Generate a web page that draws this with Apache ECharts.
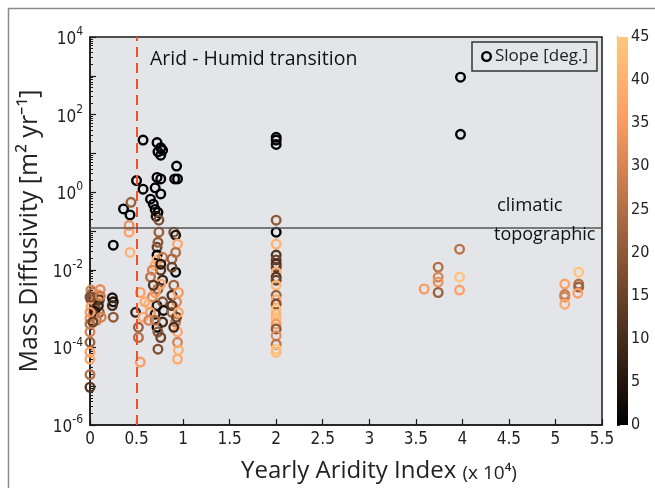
<!DOCTYPE html>
<html>
<head>
<meta charset="utf-8">
<script src="https://cdn.jsdelivr.net/npm/echarts@6/dist/echarts.min.js"></script>
<style>html,body{margin:0;padding:0;background:#fff}#c{width:655px;height:488px}</style>
</head>
<body>
<div id="c"></div>
<script>
// Yearly aridity index (x 10^4)
const aridityX = [
  0.01,0.03,0.08,0.01,0.05,0.10,0.01,0.06,0.04,0.10,0.00,0.07,0.00,0.00,0.00,0.00,0.00,0.00,0.00,0.11,
  0.02,0.09,0.05,0.11,0.00,0.12,0.03,0.00,
  0.25,0.24,0.25,0.24,0.25,
  0.36,0.43,0.44,0.42,0.42,0.43,0.50,0.57,0.57,
  0.49,0.52,0.52,0.54,0.57,0.54,0.63,
  0.72,0.76,0.73,0.78,0.76,0.72,0.76,0.70,0.76,0.65,0.68,0.70,0.73,0.71,0.74,0.74,0.72,0.72,0.70,0.72,
  0.65,0.78,0.73,0.72,0.70,0.72,0.73,0.73,0.67,0.76,0.78,0.70,
  0.67,0.76,0.78,0.65,0.70,0.76,0.68,0.78,0.73,0.76,0.63,0.59,0.79,
  0.93,0.91,0.94,0.90,0.92,0.94,0.88,0.92,0.90,0.88,0.93,0.88,0.92,0.94,0.94,0.94,0.93,
  0.88,0.95,0.88,0.95,0.90,0.95,0.92,
  2.0,2.0,2.0,2.0,2.0,2.0,2.0,2.0,2.0,2.0,2.0,2.0,2.0,2.0,2.0,2.0,2.0,2.0,2.0,2.0,2.0,2.0,2.0,2.0,2.0,2.0,
  3.74,3.74,3.74,3.74,3.59,3.97,3.97,3.97,
  5.10,5.10,5.10,5.10,5.25,5.25,5.25,5.24,
  3.98,3.98
];
// Mass diffusivity [m^2 yr^-1]
const diffusivity = [
  0.003,0.0026,0.0023,0.0017,0.0015,0.0017,0.0011,0.001,0.0007,0.0008,0.00056,0.0005,0.0004,0.000135,7.5e-5,5e-5,2e-5,9.4e-6,0.002,0.0031,
  0.002,0.0012,0.00085,0.0021,0.0008,0.0006,0.00045,0.00025,
  0.043,0.0019,0.0015,0.0012,0.0006,
  0.37,0.26,0.55,0.14,0.093,0.028,2.0,22,1.2,
  0.0008,0.00033,0.00018,4.2e-5,0.0006,0.0026,0.0013,
  19,14,11,12,9,2.4,2.2,1.3,0.9,0.66,0.49,0.36,0.3,0.24,0.19,0.093,0.038,0.024,0.013,0.018,
  0.0065,0.0054,0.0032,0.0012,0.00072,0.00033,0.00025,9e-5,0.002,0.0098,0.00045,0.0026,
  0.0098,0.0043,0.0015,0.0008,0.0005,0.00018,0.004,0.021,0.051,0.014,0.0005,0.0015,0.0009,
  4.7,2.2,2.2,0.093,0.078,0.046,0.019,0.0087,0.004,0.0022,0.0015,0.0008,0.00045,0.00025,0.000135,5e-5,0.0006,
  0.0117,0.0026,0.0012,0.0008,0.00033,8.5e-5,0.028,
  26,22,17,0.19,0.093,0.046,0.024,0.018,0.014,0.0117,0.0087,0.0065,0.0054,0.004,0.0022,0.0017,0.0013,0.00096,0.00072,0.00053,0.0004,0.0003,0.0002,0.00012,9e-5,7.5e-5,
  0.0117,0.0065,0.0048,0.0026,0.0032,0.034,0.0065,0.003,
  0.0043,0.0023,0.002,0.0013,0.0087,0.0043,0.0036,0.0025,
  920,31
];
// Slope [deg.]
const slopeDeg = [
  30,25,35,20,30,12,38,15,10,22,33,28,25,22,36,38,25,12,18,32,
  18,8,5,28,35,30,15,30,
  0,5,3,10,20,
  0,0,22,33,36,40,0,0,0,
  8,22,25,35,38,36,40,
  0,0,0,0,0,0,0,0,0,0,0,0,0,5,18,22,15,0,38,40,
  25,8,22,5,6,0,20,18,30,12,10,35,
  30,38,20,35,25,15,12,28,20,5,30,38,3,
  0,0,0,18,5,38,22,0,22,10,32,22,28,38,30,38,15,
  15,35,12,38,10,40,25,
  0,0,0,20,0,40,12,15,10,14,40,12,15,42,22,38,18,44,40,42,35,20,32,26,44,42,
  25,30,33,22,35,26,44,36,
  36,28,30,38,44,25,22,36,
  0,0
];
const xTicks = {min: 0, max: 5.5, step: 0.5};
const slopeTicks = {min: 0, max: 45, step: 5};

const copper = ['#000000','#402819','#805033','#bf784c','#ff9f66','#ffc77f'];
const ring = 'path://M0,-10A10,10,0,1,1,0,10A10,10,0,1,1,0,-10ZM0,-5.7A5.7,5.7,0,1,0,0,5.7A5.7,5.7,0,1,0,0,-5.7Z';
const narrow = "'Liberation Sans Narrow','DejaVu Sans Condensed',sans-serif";
const sans = "'Open Sans','Noto Sans',sans-serif";

const points = aridityX.map((x, i) => [x, diffusivity[i], slopeDeg[i]]);

const chart = echarts.init(document.getElementById('c'), null, {renderer: 'canvas'});
chart.setOption({
  animation: false,
  backgroundColor: '#ffffff',
  grid: [
    {left: 90, top: 37, right: 53, bottom: 63, show: true, backgroundColor: '#e4e5e9', borderColor: '#1a1a1a', borderWidth: 1.5, containLabel: false},
    {left: 617, top: 37, width: 11, height: 388, show: false, containLabel: false}
  ],
  xAxis: [
    {
      type: 'value', gridIndex: 0, min: xTicks.min, max: xTicks.max, interval: xTicks.step,
      axisLine: {show: true, onZero: false, lineStyle: {color: '#1a1a1a', width: 1.5}},
      axisTick: {show: true, inside: true, length: 6, lineStyle: {color: '#1a1a1a', width: 1.2}},
      splitLine: {show: false},
      axisLabel: {color: '#222', fontFamily: narrow, fontSize: 17, margin: 6},
      name: '{a|Yearly Aridity Index }{b|(x 10⁴)}',
      nameLocation: 'middle', nameGap: 28,
      nameTextStyle: {
        padding: [0, 0, 0, 66],
        rich: {
          a: {fontFamily: sans, fontSize: 24, color: '#222', lineHeight: 30, verticalAlign: 'bottom'},
          b: {fontFamily: sans, fontSize: 19, color: '#222', lineHeight: 28, verticalAlign: 'bottom'}
        }
      }
    },
    {type: 'value', gridIndex: 1, show: false, min: 0, max: 1}
  ],
  yAxis: [
    {
      type: 'log', gridIndex: 0, logBase: 10, min: 1e-6, max: 1e4, interval: 1,
      axisLine: {show: true, lineStyle: {color: '#1a1a1a', width: 1.5}},
      axisTick: {show: true, inside: true, length: 6, lineStyle: {color: '#1a1a1a', width: 1.2}},
      minorTick: {show: true, splitNumber: 9, length: 3, lineStyle: {color: '#1a1a1a', width: 1}},
      splitLine: {show: false},
      axisLabel: {
        margin: 7,
        formatter: function (v) {
          const e = Math.round(Math.log10(v));
          if (e % 2 !== 0) return '';
          return '{b|10}{s|' + e + '}';
        },
        rich: {
          b: {fontFamily: narrow, fontSize: 17, color: '#222', lineHeight: 22, verticalAlign: 'bottom'},
          s: {fontFamily: narrow, fontSize: 12, color: '#222', lineHeight: 12, verticalAlign: 'top'}
        }
      },
      name: 'Mass Diffusivity [m² yr⁻¹]',
      nameLocation: 'middle', nameGap: 42,
      nameTextStyle: {fontFamily: sans, fontSize: 25, color: '#222'}
    },
    {
      type: 'value', gridIndex: 1, min: slopeTicks.min, max: slopeTicks.max, interval: slopeTicks.step, position: 'right',
      axisLine: {show: true, lineStyle: {color: '#333', width: 1}},
      axisTick: {show: true, inside: false, length: 3, lineStyle: {color: '#333'}},
      splitLine: {show: false},
      axisLabel: {color: '#222', fontFamily: narrow, fontSize: 16, margin: 3}
    }
  ],
  visualMap: {
    type: 'continuous', show: false, min: 0, max: 45, dimension: 2, seriesIndex: 0,
    inRange: {color: copper}
  },
  legend: {
    left: 472, top: 42, padding: [6, 9, 6, 9], itemWidth: 11, itemHeight: 11, itemGap: 4,
    borderColor: '#333', borderWidth: 1.5, backgroundColor: '#e4e5e9',
    textStyle: {fontFamily: sans, fontSize: 17, color: '#222', padding: [0, 0, 0, -2]},
    data: [{name: 'Slope [deg.]', icon: ring, itemStyle: {color: '#000', opacity: 1}}]
  },
  series: [
    {
      name: 'Slope [deg.]', type: 'scatter', xAxisIndex: 0, yAxisIndex: 0,
      symbol: ring, symbolSize: 11, itemStyle: {color: '#000', opacity: 1},
      data: points,
      markLine: {
        silent: true, symbol: 'none', label: {show: false},
        data: [
          {xAxis: 0.5, lineStyle: {color: '#f0522a', width: 2, type: [10, 6]}},
          {yAxis: 0.12, lineStyle: {color: '#555', width: 1.5, type: 'solid'}}
        ]
      }
    }
  ],
  graphic: [
    {type: 'rect', left: 6, top: 6, z: -10, silent: true, shape: {width: 720, height: 520}, style: {fill: 'none', stroke: '#8a8a8a', lineWidth: 1.5}},
    {type: 'rect', left: 617, top: 37, z: 1, silent: true, shape: {width: 11, height: 388},
      style: {fill: {type: 'linear', x: 0, y: 1, x2: 0, y2: 0, colorStops: copper.map((c, i) => ({offset: i / (copper.length - 1), color: c}))}}},
    {type: 'text', left: 150, top: 49, z: 50, silent: true, style: {text: 'Arid - Humid transition', fontFamily: sans, fontSize: 19.5, fill: '#111'}},
    {type: 'text', left: 497, top: 196, z: 50, silent: true, style: {text: 'climatic', fontFamily: sans, fontSize: 18.5, fill: '#111'}},
    {type: 'text', left: 494, top: 226, z: 50, silent: true, style: {text: 'topographic', fontFamily: sans, fontSize: 18, fill: '#111'}}
  ]
});
</script>
</body>
</html>
